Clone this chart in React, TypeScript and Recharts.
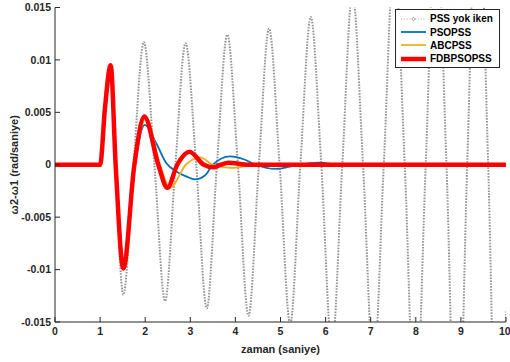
import { Legend, Line, LineChart, XAxis, YAxis } from "recharts";

// time (s) and ω2-ω1 (rad/s)
const grayT = [0, 1.0, 1.11, 1.235, 1.34, 1.515, 1.74, 1.97, 2.205, 2.44, 2.67, 2.895, 3.13, 3.365, 3.59, 3.82, 4.055, 4.29, 4.52, 4.745, 4.98, 5.215, 5.44, 5.67, 5.905, 6.14, 6.37, 6.595, 6.83, 7.065, 7.29, 7.52, 7.755, 7.99, 8.22, 8.445, 8.68, 8.915, 9.14, 9.37, 9.605, 9.84, 10];
const grayV = [0, 0, 0.0055, 0.0095, 0, -0.0124, 0, 0.0117, 0, -0.013, 0, 0.0116, 0, -0.0137, 0, 0.0124, 0, -0.0144, 0, 0.013, 0, -0.0152, 0, 0.0141, 0, -0.0175, 0, 0.0165, 0, -0.0195, 0, 0.02, 0, -0.025, 0, 0.024, 0, -0.032, 0, 0.029, 0, -0.038, -0.014];

const blueT = [0, 1.0, 1.11, 1.235, 1.345, 1.515, 1.77, 1.99, 2.25, 2.47, 2.7, 2.92, 3.1, 3.33, 3.5, 3.88, 4.2, 4.45, 4.9, 5.4, 5.85, 6.3, 6.8, 7.3, 10];
const blueV = [0, 0, 0.0055, 0.0095, 0, -0.0099, 0, 0.0038, 0.002, 0.00014, -0.00066, -0.00114, -0.0014, -0.001, 0, 0.0008, 0.0005, 0, -0.0004, 0, 0.0002, 0, -0.0001, 0, 0];

const orangeT = [0, 1.0, 1.11, 1.235, 1.345, 1.515, 1.77, 2.02, 2.33, 2.55, 2.9, 3.22, 3.5, 3.9, 4.5, 10];
const orangeV = [0, 0, 0.0055, 0.0095, 0, -0.0099, 0, 0.0045, 0, -0.0022, 0, 0.0007, 0, -0.0003, 0, 0];

const redT = [0, 1.0, 1.11, 1.235, 1.345, 1.515, 1.76, 1.98, 2.29, 2.49, 2.71, 2.98, 3.3, 3.51, 3.67, 3.84, 4.3, 10];
const redV = [0, 0, 0.0055, 0.0095, 0, -0.0099, 0, 0.0046, 0, -0.0022, 0, 0.00125, 0, -0.00025, 0, 0.0002, 0, 0];

const xTicks = [0, 1, 2, 3, 4, 5, 6, 7, 8, 9, 10];
const yTicks = [-0.015, -0.01, -0.005, 0, 0.005, 0.01, 0.015];

const INK = "#262626";
const FONT = "'Liberation Sans', Arial, sans-serif";

const zip = (t: number[], v: number[]) => t.map((x, i) => ({ t: x, v: v[i] }));

const SERIES = [
  { name: "PSS yok iken", data: zip(grayT, grayV), color: "#959595", width: 2, dash: "1.6 1.3" },
  { name: "PSOPSS", data: zip(blueT, blueV), color: "#0072BD", width: 1.8, dash: undefined },
  { name: "ABCPSS", data: zip(orangeT, orangeV), color: "#EDB120", width: 1.8, dash: undefined },
  { name: "FDBPSOPSS", data: zip(redT, redV), color: "#FF0000", width: 4.5, dash: undefined },
];

const tickStyle = { fill: INK, fontSize: 10.5, fontWeight: 700, fontFamily: FONT };

function LegendBox() {
  return (
    <div
      style={{
        border: `1px solid ${INK}`,
        background: "#fff",
        padding: "2px 0 2px 0",
        fontFamily: FONT,
        fontSize: 10,
        fontWeight: 700,
        color: "#000",
        boxSizing: "border-box",
        width: 105,
        height: 59,
      }}
    >
      {SERIES.map((s) => (
        <div key={s.name} style={{ display: "flex", alignItems: "center", height: 13.4 }}>
          <svg width={34} height={10} style={{ flex: "none" }}>
            <line
              x1={5}
              x2={30}
              y1={5}
              y2={5}
              stroke={s.dash ? "#b0b0b0" : s.color}
              strokeWidth={s.dash ? 1 : s.width}
              strokeDasharray={s.dash ? "1.2 1.6" : undefined}
            />
            {s.dash && <path d="M17.5 3.2 L19.3 5 L17.5 6.8 L15.7 5 Z" fill="#fff" stroke="#8a8a8a" strokeWidth={0.8} />}
          </svg>
          <span style={{ whiteSpace: "nowrap" }}>{s.name}</span>
        </div>
      ))}
    </div>
  );
}

export default function App() {
  return (
    <div style={{ position: "absolute", left: 0, top: 0, width: 510, height: 362, background: "#fff", fontFamily: FONT }}>
      <LineChart width={510} height={362} margin={{ top: 7.5, right: 4, bottom: 0, left: 0 }}>
        <XAxis
          dataKey="t"
          type="number"
          domain={[0, 10]}
          ticks={xTicks}
          allowDataOverflow
          height={40}
          stroke={INK}
          tickSize={-5}
          tickMargin={11}
          tick={tickStyle}
          label={{ value: "zaman (saniye)", position: "insideBottom", offset: 9, style: { ...tickStyle, fontSize: 11 } }}
        />
        <XAxis
          xAxisId="top"
          orientation="top"
          type="number"
          domain={[0, 10]}
          ticks={xTicks}
          allowDataOverflow
          height={0}
          stroke={INK}
          tickSize={-5}
          tickFormatter={() => ""}
        />
        <YAxis
          type="number"
          domain={[-0.015, 0.015]}
          ticks={yTicks}
          allowDataOverflow
          width={55}
          stroke={INK}
          tickSize={-5}
          tickMargin={9}
          tick={tickStyle}
          tickFormatter={(v: number) => String(Number(v.toFixed(3)))}
          label={{
            value: "ω2-ω1 (rad/saniye)",
            angle: -90,
            position: "insideLeft",
            offset: 14,
            style: { ...tickStyle, fontSize: 11, textAnchor: "middle" },
          }}
        />
        <YAxis
          yAxisId="right"
          orientation="right"
          type="number"
          domain={[-0.015, 0.015]}
          ticks={yTicks}
          allowDataOverflow
          width={0}
          stroke={INK}
          tickSize={-5}
          tickFormatter={() => ""}
        />
        {SERIES.map((s) => (
          <Line
            key={s.name}
            data={s.data}
            dataKey="v"
            name={s.name}
            type="monotone"
            stroke={s.color}
            strokeWidth={s.width}
            strokeDasharray={s.dash}
            dot={false}
            activeDot={false}
            isAnimationActive={false}
          />
        ))}
        <Legend
          layout="vertical"
          align="center"
          verticalAlign="middle"
          wrapperStyle={{ top: 9, left: 395, width: 105, height: 59 }}
          content={() => <LegendBox />}
        />
      </LineChart>
    </div>
  );
}
